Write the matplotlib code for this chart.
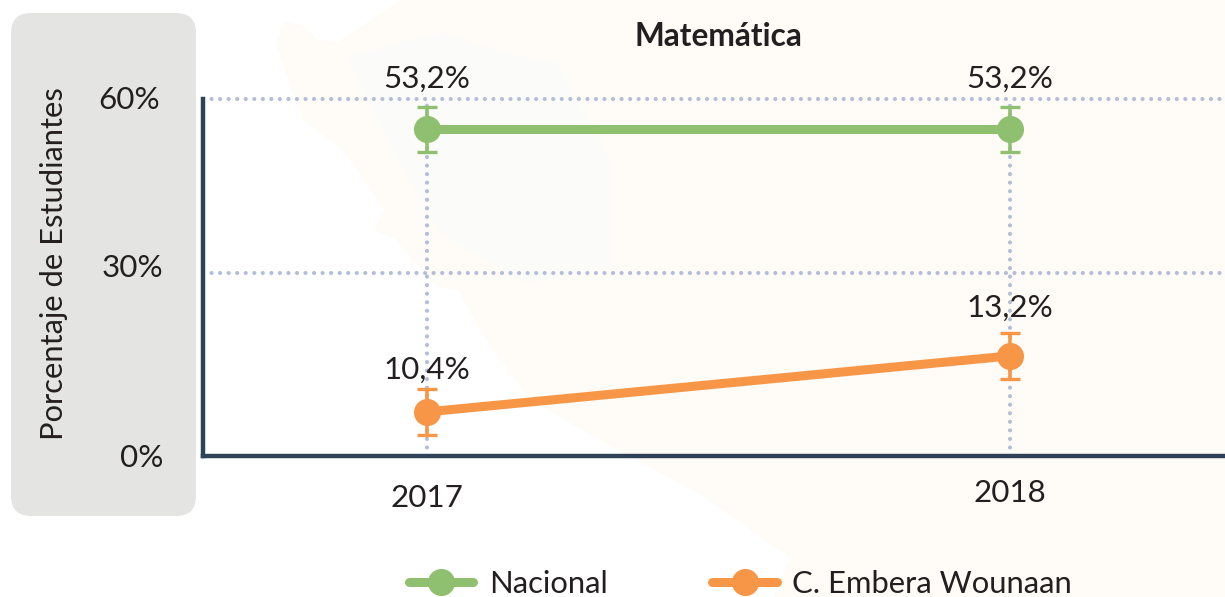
import matplotlib
matplotlib.use("Agg")
import matplotlib.pyplot as plt
from matplotlib.lines import Line2D
from matplotlib.patches import FancyBboxPatch, Polygon

plt.rcParams['font.family'] = ['Lato', 'DejaVu Sans']

years = [2017, 2018]
year_labels = ['2017', '2018']
series_names = ['Nacional', 'C. Embera Wounaan']
nacional_pos = [54.8, 54.8]
embera_pos = [7.4, 16.8]
nacional_err = [3.8, 3.8]
embera_err = [3.8, 3.8]
nacional_labels = ['53,2%', '53,2%']
embera_labels = ['10,4%', '13,2%']
y_ticks = [0, 30.7, 60]
y_tick_labels = ['0%', '30%', '60%']

GREEN = '#8FC06F'
ORANGE = '#F89647'
DARK = '#2F4358'
GRID = '#B5BED8'
TEXT = '#231F20'
W, H = 1225, 597

fig = plt.figure(figsize=(W / 100, H / 100), dpi=100, facecolor='white')

# Background layer in pixel coordinates
bg = fig.add_axes([0, 0, 1, 1], zorder=0)
bg.set_xlim(0, W)
bg.set_ylim(H, 0)
bg.axis('off')
land = [(401, 0), (338, 42), (318, 40), (303, 26), (285, 22), (276, 43), (287, 77), (303, 120),
        (343, 150), (385, 210), (374, 230), (394, 238), (437, 287), (459, 290), (470, 312),
        (490, 345), (530, 400), (600, 440), (700, 494), (790, 558), (774, 597), (W, H), (W, 0)]
bg.add_patch(Polygon(land, closed=True, fc='#FFFBF7', ec='none'))
inner = [(347, 57), (423, 37), (441, 33), (521, 57), (557, 63), (611, 163), (611, 267),
         (526, 283), (441, 233), (392, 150)]
bg.add_patch(Polygon(inner, closed=True, fc='#FBFCF9', ec='none'))
bg.add_patch(FancyBboxPatch((31, 33), 145, 463, boxstyle='round,pad=20,rounding_size=20',
                            fc='#E4E5E3', ec='none'))
bg.text(54, 264, 'Porcentaje de Estudiantes', rotation=90, ha='center', va='center',
        fontsize=22.2, color=TEXT)
bg.text(718, 36, 'Matemática', ha='center', va='center', fontsize=22.8, fontweight='bold', color=TEXT)

# Main axes: x = 427 px for 2017, x = 1010 px for 2018
left, right, top, bottom = 203, W, 98.5, 456
ax = fig.add_axes([left / W, 1 - bottom / H, (right - left) / W, (bottom - top) / H], zorder=1)
ax.patch.set_alpha(0)
px_per_year = 1010 - 427
ax.set_xlim(2017 - (427 - left) / px_per_year, 2018 + (right - 1010) / px_per_year)
ax.set_ylim(0, 60)

for s in ('top', 'right'):
    ax.spines[s].set_visible(False)
for s in ('left', 'bottom'):
    ax.spines[s].set_color(DARK)
    ax.spines[s].set_linewidth(3.2)
    ax.spines[s].set_zorder(5)

dots = dict(color=GRID, lw=3, linestyle=(0, (0.01, 2.04)), dash_capstyle='round', zorder=1,
            clip_on=False)
for t in y_ticks[1:]:
    ax.axhline(t, **dots)
for x in years:
    ax.axvline(x, **dots)

for vals, errs, col in ((nacional_pos, nacional_err, GREEN), (embera_pos, embera_err, ORANGE)):
    ax.errorbar(years, vals, yerr=errs, fmt='none', ecolor=col, elinewidth=2.6,
                capsize=7, capthick=2.4, zorder=3, clip_on=False)
    ax.plot(years, vals, color=col, lw=6.5, marker='o', ms=19.5, mew=0, zorder=4,
            solid_capstyle='butt', clip_on=False)

ax.set_xticks([])
ax.set_yticks(y_ticks)
ax.set_yticklabels([])
ax.tick_params(length=0)

tick_pos = {'0%': (163, 458), '30%': (163, 268), '60%': (160, 100)}
for lab in y_tick_labels:
    x, y = tick_pos[lab]
    bg.text(x, y, lab, ha='right', va='center', fontsize=22.6, color=TEXT)
for lab, x, y in zip(year_labels, (427, 1010), (498, 493)):
    bg.text(x, y, lab, ha='center', va='center', fontsize=22.6, color=TEXT)

for x, v, lab in zip(years, nacional_pos, nacional_labels):
    ax.annotate(lab, (x, v), xytext=(0, 51), textcoords='offset pixels', ha='center', va='center',
                fontsize=22.6, color=TEXT, zorder=6)
for x, v, lab, off in zip(years, embera_pos, embera_labels, (42, 48)):
    ax.annotate(lab, (x, v), xytext=(0, off), textcoords='offset pixels', ha='center', va='center',
                fontsize=22.6, color=TEXT, zorder=6)

handles = [Line2D([], [], color=c, lw=6.5, marker='o', ms=19.5, mew=0, solid_capstyle='round')
           for c in (GREEN, ORANGE)]
fig.legend(handles, series_names, ncol=2, frameon=False, fontsize=22.3, labelcolor=TEXT,
           loc='center', bbox_to_anchor=(740.5 / W, 1 - 584 / H), handlelength=2.07,
           handletextpad=0.5, columnspacing=3.39, borderpad=0, borderaxespad=0)

fig.savefig('out.png', dpi=100, facecolor='white')
